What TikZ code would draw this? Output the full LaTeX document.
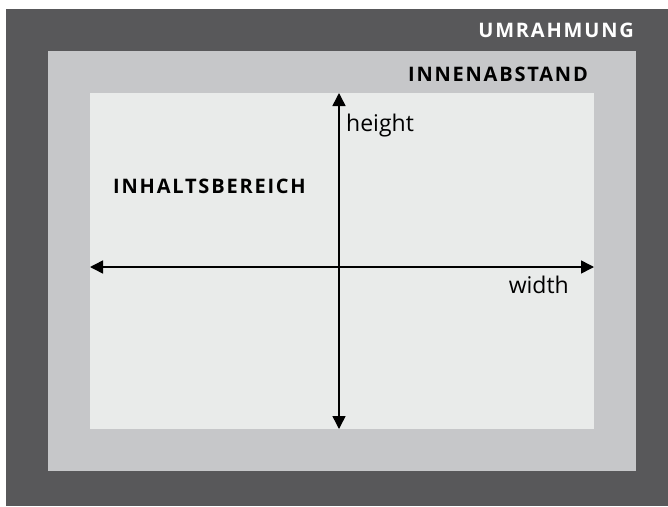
\documentclass[tikz,border=0pt]{standalone}
\usepackage{fontspec}
\usepackage{xcolor}
\setmainfont{Open Sans}
\newfontfamily\spaced[LetterSpace=9]{Open Sans}
\usetikzlibrary{arrows.meta}

\definecolor{umrahmung}{HTML}{58585A}
\definecolor{innenabstand}{HTML}{C6C7C9}
\definecolor{inhalt}{HTML}{E9EBEA}

\tikzset{
  bereich/.style={font=\spaced\bfseries\fontsize{20}{24}\selectfont, inner sep=0pt},
  achse/.style={line width=1.5pt, {Triangle[length=13pt,width=13pt]}-{Triangle[length=13pt,width=13pt]}},
  masz/.style={font=\fontsize{23}{27}\selectfont, inner sep=0pt}
}

\begin{document}
\begin{tikzpicture}[x=1pt,y=-1pt]
                \useasboundingbox (0,0) rectangle (668,506);

                \fill[umrahmung] (6,9) rectangle (668,506);
                \fill[innenabstand] (48,51) rectangle (636,471);
                \fill[inhalt] (90,93) rectangle (594,429);

                \coordinate (oben) at (339,93);
                \coordinate (unten) at (339,429);
                \coordinate (links) at (90,267);
                \coordinate (rechts) at (594,267);

                \draw[achse] (links) -- (rechts);
                \draw[achse] (oben) -- (unten);

                \node[bereich, text=white, anchor=base east] (rahmen) at (634,37) {UMRAHMUNG};
                \node[bereich, anchor=base east] (abstand) at (588,81) {INNENABSTAND};
                \node[bereich, anchor=base west] (inhaltsbereich) at (113,193) {INHALTSBEREICH};

                \node[masz, anchor=base west] (hoehe) at (346,131) {height};
                \node[masz, anchor=base east] (breite) at (569,293) {width};
            \end{tikzpicture}
\end{document}
